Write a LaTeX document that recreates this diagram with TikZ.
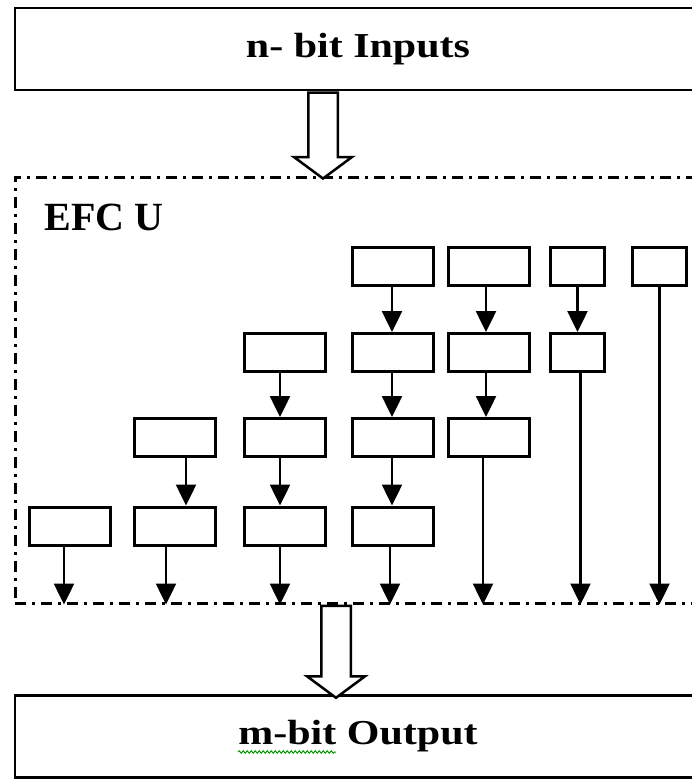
\documentclass[tikz,border=0pt]{standalone}
\usepackage{fontspec}
\setmainfont{Liberation Serif}
\usetikzlibrary{arrows.meta,shapes.arrows,positioning,decorations.pathmorphing}
\tikzset{
  bigbox/.style={rectangle,draw=black,line width=2.5pt,minimum width=686pt,
    minimum height=82pt,inner sep=0pt,font=\fontsize{35}{40}\selectfont\bfseries},
  cell/.style={rectangle,draw=black,line width=3pt,minimum width=81pt,
    minimum height=38pt,inner sep=0pt},
  narrowcell/.style={cell,minimum width=54pt},
  unitbox/.style={rectangle,draw=black,line width=3pt,inner sep=0pt,
    dash pattern=on 11pt off 6pt on 3pt off 6pt},
  flow/.style={-{Triangle[length=21pt,width=20pt]},line width=2.5pt},
  fatarrow/.style={single arrow,draw=black,fill=white,line width=2.5pt,inner sep=13.5pt,
    shape border rotate=270,single arrow head extend=14pt,
    single arrow tip angle=107,minimum height=#1,anchor=tail},
}
\begin{document}
\begin{tikzpicture}[x=1pt,y=-1pt]
  \useasboundingbox (0,0) rectangle (692,780);
  % input, unit and output
  \node[bigbox] (inputs) at (358,49) {\scalebox{1.2}[1]{n- bit Inputs}};
  \node[unitbox,minimum width=687pt,minimum height=426pt] (efc) at (358.5,390) {};
  \node[anchor=base west,font=\fontsize{40}{44}\selectfont\bfseries] (efclbl) at (41,230) {EFC U};
  \node[bigbox] (output) at (358,736.5) {\scalebox{1.2}[1]{m-bit Output}};
  \draw[green!60!black,line width=1pt,decorate,
    decoration={snake,segment length=4pt,amplitude=1.2pt}] (238,752) -- (336,752);
  % hollow arrows
  \node[fatarrow=86pt] (inarrow) at ([xshift=-35pt]inputs.south) {};
  \node[fatarrow=92pt] (outarrow) at ([xshift=-22.5pt]efc.south) {};
  % row 1
  \node[cell] (r1c4) at (393,266.5) {};
  \node[cell] (r1c5) at (489,266.5) {};
  \node[narrowcell] (r1c6) at (577.5,266.5) {};
  \node[narrowcell] (r1c7) at (659.5,266.5) {};
  % row 2
  \node[cell] (r2c3) at (285,352.5) {};
  \node[cell] (r2c4) at (393,352.5) {};
  \node[cell] (r2c5) at (489,352.5) {};
  \node[narrowcell] (r2c6) at (577.5,352.5) {};
  % row 3
  \node[cell] (r3c2) at (175,437.5) {};
  \node[cell] (r3c3) at (285,437.5) {};
  \node[cell] (r3c4) at (393,437.5) {};
  \node[cell] (r3c5) at (489,437.5) {};
  % row 4
  \node[cell] (r4c1) at (70,526) {};
  \node[cell] (r4c2) at (175,526) {};
  \node[cell] (r4c3) at (285,526) {};
  \node[cell] (r4c4) at (393,526) {};
  % arrows between cells
  \draw[flow] ([xshift=-1pt]r1c4.south) -- ([xshift=-1pt]r2c4.north);
  \draw[flow] ([xshift=-1pt]r2c4.south) -- ([xshift=-1pt]r3c4.north);
  \draw[flow] ([xshift=-1pt]r3c4.south) -- ([xshift=-1pt]r4c4.north);
  \draw[flow] ([xshift=-3pt]r1c5.south) -- ([xshift=-3pt]r2c5.north);
  \draw[flow] ([xshift=-3pt]r2c5.south) -- ([xshift=-3pt]r3c5.north);
  \draw[flow] (r1c6.south) -- (r2c6.north);
  \draw[flow] ([xshift=-5pt]r2c3.south) -- ([xshift=-5pt]r3c3.north);
  \draw[flow] ([xshift=-5pt]r3c3.south) -- ([xshift=-5pt]r4c3.north);
  \draw[flow] ([xshift=11pt]r3c2.south) -- ([xshift=11pt]r4c2.north);
  % arrows down to the unit border
  \draw[flow] ([xshift=-6pt]r4c1.south) -- ([xshift=-6pt]r4c1.south |- efc.south);
  \draw[flow] ([xshift=-9pt]r4c2.south) -- ([xshift=-9pt]r4c2.south |- efc.south);
  \draw[flow] ([xshift=-5pt]r4c3.south) -- ([xshift=-5pt]r4c3.south |- efc.south);
  \draw[flow] ([xshift=-3pt]r4c4.south) -- ([xshift=-3pt]r4c4.south |- efc.south);
  \draw[flow] ([xshift=-6pt]r3c5.south) -- ([xshift=-6pt]r3c5.south |- efc.south);
  \draw[flow] ([xshift=3pt]r2c6.south) -- ([xshift=3pt]r2c6.south |- efc.south);
  \draw[flow] (r1c7.south) -- (r1c7.south |- efc.south);
\end{tikzpicture}
\end{document}
